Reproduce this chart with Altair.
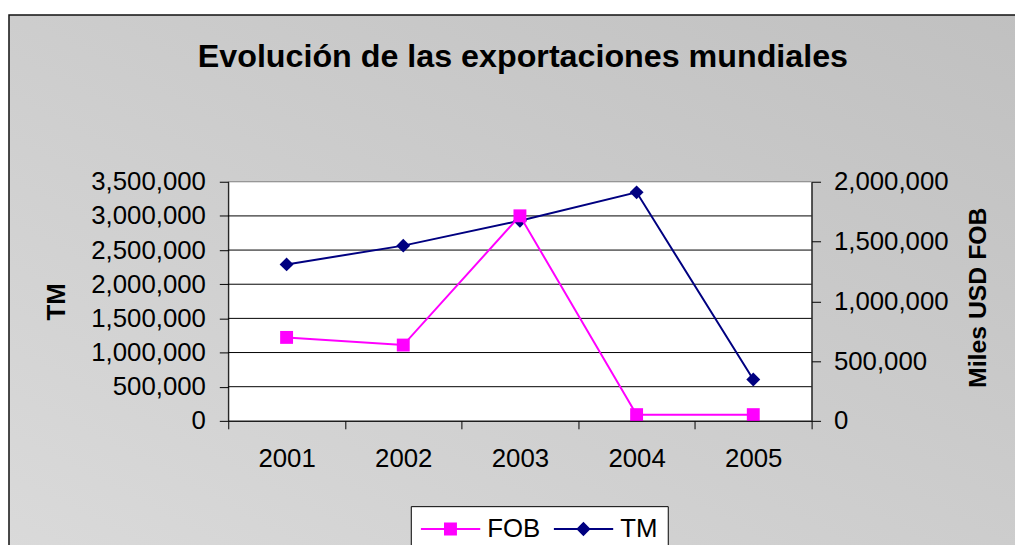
import altair as alt
import pandas as pd

# ---------------- data ----------------
years = ["2001", "2002", "2003", "2004", "2005"]
tm_values = [2290000, 2565000, 2930000, 3345000, 605000]        # TM (left axis)
fob_values = [698000, 634000, 1715000, 52000, 52000]            # Miles USD FOB (right axis)
left_ticks = [0, 500000, 1000000, 1500000, 2000000, 2500000, 3000000, 3500000]
right_ticks = [0, 500000, 1000000, 1500000, 2000000]
grid_values = [500000, 1000000, 1500000, 2000000, 2500000, 3000000]
series_names = ["FOB", "TM"]
series_colors = ["#FF00FF", "#000080"]
title_text = "Evolución de las exportaciones mundiales"
left_title = "TM"
right_title = "Miles USD FOB"

# ---------------- layout ----------------
W, H = 588, 241
PAD = {"left": 222, "top": 173, "right": 205, "bottom": 123}
FONT = "Arial, Liberation Sans, sans-serif"

tm_df = pd.DataFrame({"year": years, "value": tm_values})
fob_df = pd.DataFrame({"year": years, "value": fob_values})
grid_df = pd.DataFrame({"v": grid_values})
legend_df = pd.DataFrame({"series": series_names})
one = pd.DataFrame({"a": [0]})

# legend symbols: line with marker (custom paths in [-1,1] box)
path_fob = "M-1,-0.035H1V0.035H-1Z M-0.217,-0.217H0.217V0.217H-0.217Z"
path_tm = "M-1,-0.035H1V0.035H-1Z M-0.24,0L0,-0.24L0.24,0L0,0.24Z"

x_axis = alt.Axis(
    title=None, tickBand="extent", labelAngle=0, labelFontSize=26, labelFont=FONT,
    labelColor="black", labelPadding=17, tickSize=8, tickColor="black",
    domainColor="black", zindex=1, grid=False,
)
x_enc = alt.X(
    "year:O", bandPosition=0.5,
    scale=alt.Scale(type="band", paddingInner=0, paddingOuter=0, domain=years),
    axis=x_axis,
)

y_left_scale = alt.Scale(domain=[0, 3500000], nice=False, zero=True)
y_left_axis = alt.Axis(
    title=left_title, orient="left", values=left_ticks, format=",d",
    labelFontSize=26, labelFont=FONT, labelColor="black", labelPadding=14,
    labelOverlap=False, tickSize=9, tickColor="black", domainColor="black",
    grid=False, zindex=1, titleFontSize=26, titleFont=FONT, titleFontWeight="bold",
    titleColor="black", titleAngle=270, titleBaseline="alphabetic",
    titleX=-165, titleY=120.7,
)
y_right_scale = alt.Scale(domain=[0, 2000000], nice=False, zero=True)
y_right_axis = alt.Axis(
    title=right_title, orient="right", values=right_ticks, format=",d",
    labelFontSize=26, labelFont=FONT, labelColor="black", labelPadding=13,
    labelOverlap=False, tickSize=9, tickColor="black", domainColor="black",
    grid=False, zindex=1, titleFontSize=25, titleFont=FONT, titleFontWeight="bold",
    titleColor="black", titleAngle=270, titleBaseline="alphabetic",
    titleX=175, titleY=116.4,
)

gradient = alt.LinearGradient(
    gradient="linear",
    stops=[alt.GradientStop(color="#dadada", offset=0),
           alt.GradientStop(color="#c0c0c0", offset=1)],
    x1=0, y1=1, x2=1, y2=0,
)

bg = alt.Chart(one).mark_rect(fill=gradient, stroke="#111111", strokeWidth=1.5).encode(
    x=alt.value(-221), x2=alt.value(W + PAD["right"] + 20),
    y=alt.value(-168), y2=alt.value(H + PAD["bottom"] + 20),
)
plot_bg = alt.Chart(one).mark_rect(fill="white", stroke="#808080", strokeWidth=1).encode(
    x=alt.value(0), x2=alt.value(W), y=alt.value(0), y2=alt.value(H),
)
title = alt.Chart(one).mark_text(
    text=title_text, font=FONT, fontSize=32.5, fontWeight="bold", color="black",
    align="center", baseline="alphabetic",
).encode(x=alt.value(297), y=alt.value(-116))

grid = alt.Chart(grid_df).mark_rule(color="#000000", strokeWidth=1).encode(
    y=alt.Y("v:Q", scale=y_left_scale, axis=y_left_axis),
)

tm_line = alt.Chart(tm_df).mark_line(color="#000080", strokeWidth=2).encode(
    x=x_enc, y=alt.Y("value:Q", scale=y_left_scale, axis=y_left_axis),
)
tm_pts = alt.Chart(tm_df).mark_point(
    shape="diamond", filled=True, size=196, color="#000080", opacity=1
).encode(x=x_enc, y=alt.Y("value:Q", scale=y_left_scale, axis=y_left_axis))

leg = alt.Legend(
    title=None, orient="none", legendX=184, legendY=327, direction="horizontal",
    fillColor="white", strokeColor="black", padding=10, columnPadding=13,
    labelOffset=7, symbolSize=3600, clipHeight=26, labelFontSize=26,
    labelFont=FONT, labelColor="black", symbolStrokeWidth=0, symbolOpacity=1,
)
legend_layer = alt.Chart(legend_df).mark_point(filled=True, opacity=0).encode(
    color=alt.Color("series:N", scale=alt.Scale(domain=series_names, range=series_colors), legend=leg),
    shape=alt.Shape("series:N", scale=alt.Scale(domain=series_names, range=[path_fob, path_tm]), legend=leg),
)

fob_line = alt.Chart(fob_df).mark_line(color="#FF00FF", strokeWidth=2).encode(
    x=x_enc, y=alt.Y("value:Q", scale=y_right_scale, axis=y_right_axis),
)
fob_pts = alt.Chart(fob_df).mark_point(
    shape="square", filled=True, size=169, color="#FF00FF", opacity=1
).encode(x=x_enc, y=alt.Y("value:Q", scale=y_right_scale, axis=y_right_axis))

left_group = alt.layer(bg, plot_bg, title, grid, tm_line, tm_pts, legend_layer)
right_group = alt.layer(fob_line, fob_pts)

chart = alt.layer(left_group, right_group).resolve_scale(y="independent").properties(
    width=W, height=H, padding=PAD, autosize=alt.AutoSizeParams(type="none"),
).configure_view(stroke=None).configure(background="white")

chart.save("out.html", embed_options={"renderer": "svg", "actions": False})
